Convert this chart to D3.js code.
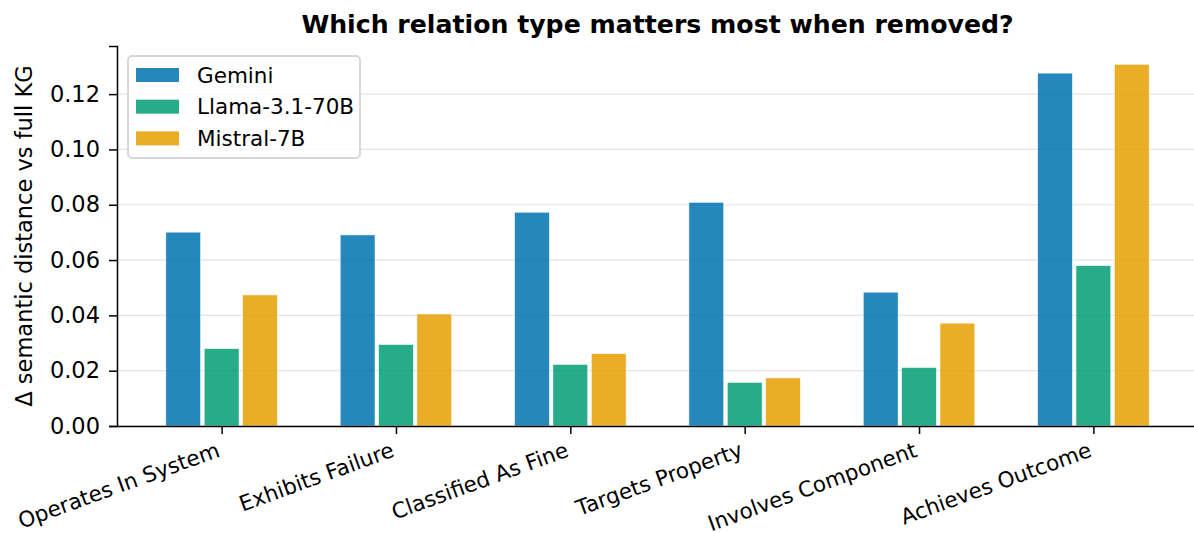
<!DOCTYPE html>
<html>
<head>
<meta charset="utf-8">
<script src="https://cdn.jsdelivr.net/npm/d3@7"></script>
<style>
  body { margin: 0; background: #fff; }
  text { font-family: "DejaVu Sans", sans-serif; fill: #000; }
</style>
</head>
<body>
<svg id="chart" width="1194" height="533"></svg>
<script>
// relation types on the x axis
const categories = ['Operates In System', 'Exhibits Failure', 'Classified As Fine',
    'Targets Property', 'Involves Component', 'Achieves Outcome'];
const models = ['Gemini', 'Llama-3.1-70B', 'Mistral-7B'];
const gemini = [0.0701, 0.0691, 0.0773, 0.0809, 0.0484, 0.1276];
const llama = [0.0280, 0.0295, 0.0223, 0.0158, 0.0212, 0.0580];
const mistral = [0.0474, 0.0405, 0.0262, 0.0174, 0.0372, 0.1308];
const yTicks = [0, 0.02, 0.04, 0.06, 0.08, 0.10, 0.12];
const colors = ['#0072B2', '#009E73', '#E69F00'];

const series = [gemini, llama, mistral];
const svg = d3.select('#chart');
const mLeft = 117, mRight = 1198, mTop = 46, mBottom = 426;

let x = d3.scaleLinear().domain([-0.6, categories.length - 0.4]).range([mLeft, mRight]);
let y = d3.scaleLinear().domain([0, 0.1374]).range([mBottom, mTop]);
const step = x(1) - x(0);
const barW = step * 0.2;
const offsets = [-0.22, 0, 0.22];

// grid
svg.append('g').selectAll('line').data(yTicks).join('line')
    .attr('x1', mLeft).attr('x2', mRight)
    .attr('y1', d => y(d)).attr('y2', d => y(d))
    .attr('stroke', '#e3e3e3').attr('stroke-width', 1.2);

// bars
series.forEach((vals, si) => {
    svg.append('g').selectAll('rect').data(vals).join('rect')
        .attr('x', (d, i) => x(i + offsets[si]) - barW / 2)
        .attr('width', barW)
        .attr('y', d => y(d))
        .attr('height', d => y(0) - y(d))
        .attr('fill', colors[si]).attr('fill-opacity', 0.85)
        .attr('stroke', '#fff').attr('stroke-width', 0.6);
});

// y axis
let yAxis = svg.append('g').attr('transform', `translate(${mLeft},0)`)
    .call(d3.axisLeft(y).tickValues(yTicks).tickFormat(d3.format('.2f')).tickSize(8).tickPadding(9));
yAxis.select('.domain').attr('stroke', '#000').attr('stroke-width', 1.5);
yAxis.selectAll('.tick line').attr('stroke', '#000').attr('stroke-width', 1.5);
yAxis.selectAll('.tick text').style('font-size', '22.5px').style('font-family', '"DejaVu Sans", sans-serif');

// x axis
let xAxis = svg.append('g').attr('transform', `translate(0,${mBottom})`)
    .call(d3.axisBottom(x).tickValues(d3.range(categories.length)).tickFormat(i => categories[i]).tickSize(8).tickSizeOuter(0));
xAxis.select('.domain').attr('stroke', '#000').attr('stroke-width', 1.5);
xAxis.selectAll('.tick line').attr('stroke', '#000').attr('stroke-width', 1.5);
xAxis.selectAll('.tick text')
    .style('font-size', '21.5px').style('font-family', '"DejaVu Sans", sans-serif')
    .attr('text-anchor', 'end')
    .attr('x', 0).attr('y', 0).attr('dy', 0)
    .attr('transform', 'translate(-1,30) rotate(-20)');

// title + y label
svg.append('text').attr('x', (mLeft + mRight) / 2).attr('y', 33)
    .attr('text-anchor', 'middle').style('font-size', '25.2px').style('font-weight', 'bold')
    .text('Which relation type matters most when removed?');
svg.append('text')
    .attr('transform', `translate(32,${(mTop + mBottom) / 2}) rotate(-90)`)
    .attr('text-anchor', 'middle').style('font-size', '22.5px')
    .text('Δ semantic distance vs full KG');

// legend
let lg = svg.append('g').attr('transform', 'translate(128,56)');
lg.append('rect').attr('width', 232).attr('height', 102).attr('rx', 4)
    .attr('fill', '#fff').attr('fill-opacity', 0.8)
    .attr('stroke', '#cccccc').attr('stroke-width', 1.5);
models.forEach((m, i) => {
    let row = lg.append('g').attr('transform', `translate(8,${19 + i * 31.7})`);
    row.append('rect').attr('y', -7).attr('width', 43).attr('height', 14)
        .attr('fill', colors[i]).attr('fill-opacity', 0.85);
    row.append('text').attr('x', 61).attr('y', 0).attr('dy', '0.35em')
        .style('font-size', '21.5px').text(m);
});
</script>
</body>
</html>
